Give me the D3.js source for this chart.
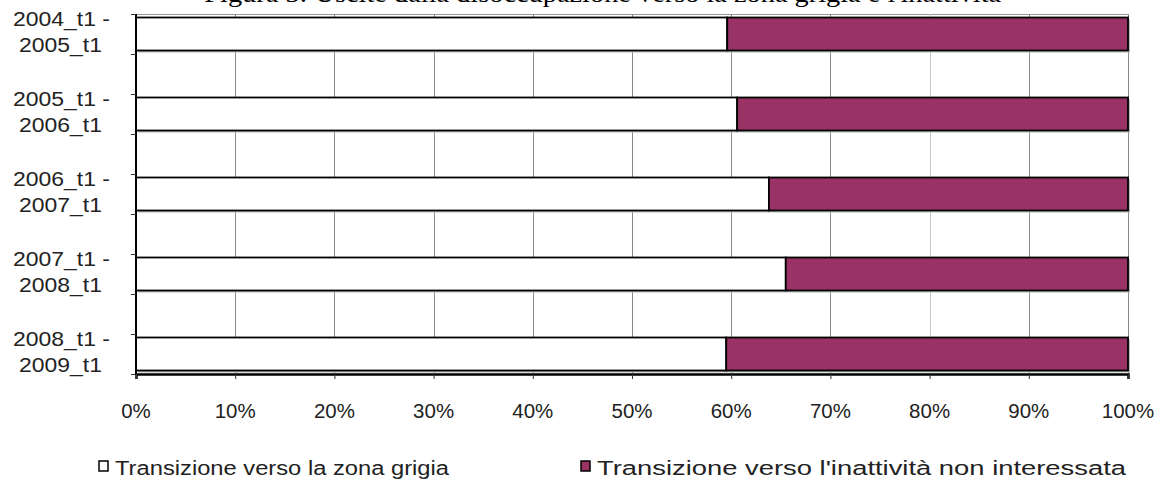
<!DOCTYPE html>
<html><head><meta charset="utf-8">
<script src="https://cdn.jsdelivr.net/npm/d3@7"></script>
<style>body{margin:0;background:#fff}svg{display:block}</style>
</head><body><svg id="c" width="1156" height="486"></svg>
<script>
const title = "Figura 3: Uscite dalla disoccupazione verso la zona grigia e l'inattività";
const categories = [["2004_t1 -","2005_t1"],["2005_t1 -","2006_t1"],["2006_t1 -","2007_t1"],["2007_t1 -","2008_t1"],["2008_t1 -","2009_t1"]];
const zonaGrigia = [59.6, 60.6, 63.8, 65.5, 59.5];
const inattivita = [40.4, 39.4, 36.2, 34.5, 40.5];
const seriesNames = ["Transizione verso la zona grigia","Transizione verso l'inattività non interessata"];
const seriesColors = ["#ffffff","#993366"];
const xTicks = [0,10,20,30,40,50,60,70,80,90,100];

const FONT = "Liberation Sans, Arial, sans-serif";
const svg = d3.select("#c");
const L=136, R=1128, T=14, B=374;
const slots = [];
categories.forEach((c,i)=>{ slots.push("c"+i); if(i<categories.length-1) slots.push("g"+i); });
const y = d3.scaleBand().domain(slots).range([T,B]).paddingInner(0.175).paddingOuter(0.0875);
const x = d3.scaleLinear().domain([0,100]).range([L,R]);

// title (mostly clipped at top edge)
const tt = svg.append("text").attr("font-family","Liberation Serif, Times New Roman, serif")
  .attr("font-size",26).attr("fill","#000").attr("x",0).attr("y",0).text(title);
const node = tt.node();
const pP = node.getStartPositionOfChar(title.indexOf("p")).x;
const pG = node.getStartPositionOfChar(title.indexOf("grigia")).x;
const s = (795-543)/(pG-pP);
const tx = 543 - s*pP;
tt.attr("transform",`translate(${tx},2) scale(${s},1)`);

svg.append("line").attr("x1",L).attr("x2",R).attr("y1",T+0.5).attr("y2",T+0.5).attr("stroke","#999");
svg.append("g").selectAll("line").data(xTicks.slice(1)).join("line")
  .attr("x1",d=>Math.round(x(d))+0.5).attr("x2",d=>Math.round(x(d))+0.5).attr("y1",T).attr("y2",B)
  .attr("stroke",d=>d===80?"#c8c8c8":"#8a8a8a").attr("stroke-width",1);

const stack = categories.map((c,i)=>({k:"c"+i, a:zonaGrigia[i], b:inattivita[i]}));
const bars = svg.append("g");
stack.forEach(d=>{
  const y0=y(d.k), h=y.bandwidth();
  bars.append("rect").attr("x",x(0)+2).attr("y",y0+2).attr("width",x(100)-x(0)).attr("height",h).attr("fill","#bbb");
  bars.append("rect").attr("x",x(0)).attr("y",y0).attr("width",x(d.a)-x(0)).attr("height",h)
    .attr("fill",seriesColors[0]).attr("stroke","#000").attr("stroke-width",1.8);
  bars.append("rect").attr("x",x(d.a)).attr("y",y0).attr("width",x(d.a+d.b)-x(d.a)).attr("height",h)
    .attr("fill",seriesColors[1]).attr("stroke","#000").attr("stroke-width",1.8);
});

// y axis
const yAxisG = svg.append("g");
yAxisG.append("line").attr("x1",L).attr("x2",L).attr("y1",T).attr("y2",B+1).attr("stroke","#000").attr("stroke-width",2);
const tickYs = d3.range(0,slots.length+1).map(i=>T+i*(B-T)/slots.length);
yAxisG.selectAll("line.t").data(tickYs).join("line").attr("class","t")
  .attr("x1",L-5).attr("x2",L).attr("y1",d=>Math.round(d)+0.5).attr("y2",d=>Math.round(d)+0.5).attr("stroke","#333");
categories.forEach((c,i)=>{
  const cy = y("c"+i)+y.bandwidth()/2;
  svg.append("text").attr("text-anchor","end").attr("font-family",FONT).attr("font-size",20.5).attr("fill","#222")
    .attr("transform",`translate(110,${cy-8}) scale(1.12,1)`).text(c[0]);
  svg.append("text").attr("text-anchor","end").attr("font-family",FONT).attr("font-size",20.5).attr("fill","#222")
    .attr("transform",`translate(102,${cy+18}) scale(1.12,1)`).text(c[1]);
});

// x axis
const xAxis = d3.axisBottom(x).tickValues(xTicks).tickFormat("").tickSize(5);
const xg = svg.append("g").attr("transform",`translate(0,${B})`).call(xAxis);
xg.select(".domain").attr("stroke","#000").attr("stroke-width",2.5);
xg.selectAll(".tick line").attr("stroke","#333");
svg.append("g").selectAll("text").data(xTicks).join("text")
  .attr("transform",d=>`translate(${x(d)},418) scale(1.05,1)`).attr("text-anchor","middle")
  .attr("font-family",FONT).attr("font-size",19.5).attr("fill","#222").text(d=>d+"%");

// legend
const legX = [99, 581];
const legLen = [334, 529];
seriesNames.forEach((n,i)=>{
  svg.append("rect").attr("x",legX[i]).attr("y",461).attr("width",9).attr("height",10)
    .attr("fill",seriesColors[i]).attr("stroke","#000").attr("stroke-width",1.5);
  svg.append("text").attr("x",legX[i]+16).attr("y",475).attr("font-family",FONT)
    .attr("font-size",20).attr("fill","#222").attr("textLength",legLen[i]).attr("lengthAdjust","spacingAndGlyphs").text(n);
});
</script></body></html>
